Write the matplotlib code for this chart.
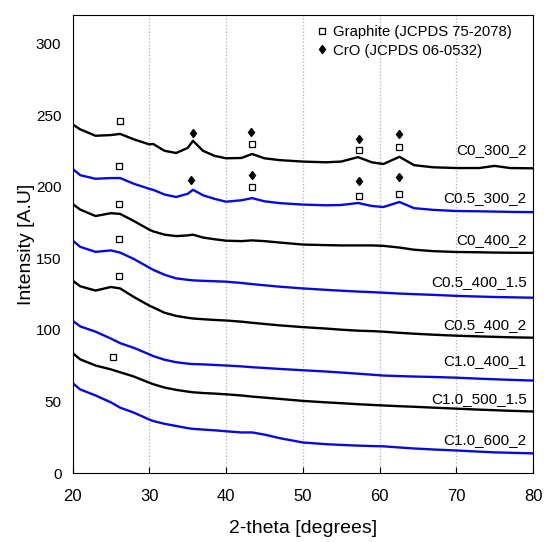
import numpy as np
import matplotlib.pyplot as plt
from matplotlib.lines import Line2D

plt.rcParams['font.family'] = ['Liberation Sans', 'DejaVu Sans']

# 2-theta grid the curves were read at
two_theta = [20, 21, 23, 25, 26.2, 28, 30, 30.5, 32, 33.5, 35, 35.7, 37, 38.5, 40, 42, 43.4,
             45, 47, 50, 53, 55, 57.2, 59, 60.5, 62.6, 64.5, 67, 70, 73, 75, 77, 80]

c0_300_2 = [243.5, 240, 235.5, 236, 236.8, 233, 229.5, 229.8, 225, 223.5, 227, 232, 225, 221.5,
            219.8, 220, 222.8, 219.8, 218.5, 217.5, 217, 217.5, 220.6, 217, 215.8, 220.8, 215,
            213.5, 213, 213, 214.5, 213, 212.8]
c05_300_2 = [212.5, 208, 205.5, 206, 206, 202, 198.5, 197.8, 194.5, 192.8, 195, 197.8, 194, 191.5,
             189.5, 190.5, 192, 189.8, 188.5, 187.5, 187, 187.2, 188.6, 186.5, 185.8, 189.3, 185,
             183.8, 183, 182.8, 182.6, 182.4, 182.2]
c0_400_2 = [188, 184, 179.5, 181.5, 181, 176, 170, 168.8, 166.5, 165.5, 166, 166.5, 164.5, 163.3,
            162.3, 162, 162.5, 162, 161, 159.6, 159.2, 159, 159, 159, 158.7, 157.5, 156, 155,
            154.4, 154.2, 154, 153.9, 153.8]
c05_400_15 = [162.5, 158, 154.5, 155.5, 154, 149.5, 143.5, 142, 138.5, 136, 135, 134.6, 134.3, 134,
              133.7, 132.8, 132, 131.2, 130.2, 129, 128, 127.4, 126.8, 126.4, 126, 125.4, 125,
              124.5, 123.8, 123.3, 123, 122.8, 122.5]
c05_400_2 = [134.5, 130.5, 127.5, 130, 129, 123, 117, 115.8, 112, 109.8, 108.5, 108, 107.5, 107,
             106.6, 105.8, 105, 104.2, 103.2, 102, 101, 100.2, 99.5, 99.2, 98.8, 98, 97.4, 96.7,
             96, 95.5, 95.2, 94.9, 94.6]
c10_400_1 = [106.5, 102.5, 98.8, 94, 90.8, 87.5, 83, 81.8, 79.2, 77.5, 76.5, 76.2, 76, 75.6, 75.2,
             74.6, 74, 73.5, 72.8, 71.9, 71, 70.3, 69.5, 68.8, 68.2, 67.8, 67.5, 67.2, 66.7, 66,
             65.6, 65.2, 64.7]
c10_500_15 = [84, 79.5, 75.2, 72.5, 70.5, 67.5, 63.2, 62.2, 59.8, 58.2, 57, 56.5, 56, 55.6, 55.1,
              54.3, 53.5, 52.8, 51.9, 50.5, 49.5, 48.9, 48.2, 47.7, 47.3, 46.8, 46.4, 45.8, 45.1,
              44.4, 44, 43.6, 43.1]
c10_600_2 = [63, 58.5, 54.3, 49.5, 45.8, 42.3, 37.5, 36.5, 34.5, 33, 31.5, 31, 30.5, 30, 29.3,
             28.5, 28.5, 27, 24.5, 21.5, 20.3, 19.8, 19.3, 19, 18.8, 18, 17.3, 16.6, 15.9, 15.1,
             14.6, 14.3, 13.9]

series = [c0_300_2, c05_300_2, c0_400_2, c05_400_15, c05_400_2, c10_400_1, c10_500_15, c10_600_2]
names = ['C0_300_2', 'C0.5_300_2', 'C0_400_2', 'C0.5_400_1.5', 'C0.5_400_2',
         'C1.0_400_1', 'C1.0_500_1.5', 'C1.0_600_2']
name_y = [225.6, 192, 163, 133.4, 103.7, 78.2, 51.7, 23.2]
colors = ['black', '#0a0ad8', 'black', '#0a0ad8', 'black', '#0a0ad8', 'black', '#0a0ad8']

# phase markers
graphite_x = [26.2, 43.4, 57.3, 62.6, 26.05, 43.4, 57.35, 62.6, 26.1, 26.0, 26.0, 25.3]
graphite_y = [245.7, 229.9, 225.4, 228.0, 214.3, 199.6, 193.8, 195.2, 188.2, 163.5, 137.4, 81.1]
cro_x = [35.7, 43.3, 57.3, 62.6, 35.4, 43.4, 57.35, 62.6]
cro_y = [237.6, 238.3, 233.6, 236.4, 204.5, 207.8, 203.8, 206.8]

fig = plt.figure(figsize=(5.44, 5.42), dpi=100)
ax = fig.add_axes([0.1333, 0.1268, 0.8465, 0.8461])

for y, c in zip(series, colors):
    ax.plot(two_theta, y, color=c, lw=1.7)

for n, yy in zip(names, name_y):
    ax.text(79.2, yy, n, ha='right', va='center', fontsize=11)

ax.plot(graphite_x, graphite_y, ls='none', marker='s', ms=5, mfc='white', mec='black', mew=0.9)
ax.plot(cro_x, cro_y, ls='none', marker='d', ms=4.5, mfc='black', mec='black')

handles = [Line2D([], [], ls='none', marker='s', ms=5, mfc='white', mec='black', mew=0.9),
           Line2D([], [], ls='none', marker='d', ms=4.5, mfc='black', mec='black')]
ax.legend(handles, ['Graphite (JCPDS 75-2078)', 'CrO (JCPDS 06-0532)'], loc='upper left',
          bbox_to_anchor=(0.51, 1.0), frameon=False, fontsize=10.7, handlelength=0.6,
          handletextpad=0.4, labelspacing=0.3, borderaxespad=0.3)

ax.set_xlim(20, 80)
ax.set_ylim(0, 320)
ax.set_xticks([20, 30, 40, 50, 60, 70, 80])
ax.set_yticks([0, 50, 100, 150, 200, 250, 300])
ax.tick_params(axis='x', direction='in', length=4, labelsize=12, pad=11)
ax.tick_params(axis='y', length=0, labelsize=11, pad=8)
ax.xaxis.grid(True, ls=':', color='#b0b0b0', lw=0.9)
ax.set_xlabel('2-theta [degrees]', fontsize=14, labelpad=12)
ax.set_ylabel('Intensity [A.U]', fontsize=14, labelpad=1)

plt.savefig('out.png')
